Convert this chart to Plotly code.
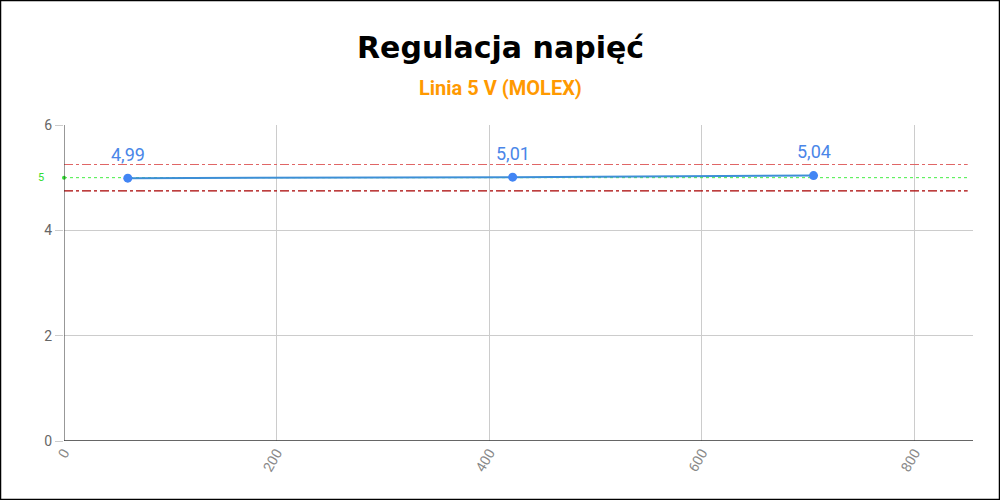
import plotly.graph_objects as go

loads = [60, 422, 705]
voltages = [4.99, 5.01, 5.04]
labels = ["4,99", "5,01", "5,04"]
nominal = 5.0
upper_limit = 5.25
lower_limit = 4.75
limit_x = [0, 850]
y_ticks = [0, 2, 4, 6]
x_ticks = [0, 200, 400, 600, 800]
title_text = "Regulacja napięć"
subtitle_text = "Linia 5 V (MOLEX)"

L, R, T, B = 64, 27, 125, 59
PW, PH = 1000 - L - R, 500 - T - B

def px_x(px):
    return (px - L) / PW

def px_y(py):
    return (500 - B - py) / PH

fig = go.Figure()

fig.add_trace(go.Scatter(x=limit_x, y=[upper_limit, upper_limit], mode="lines",
                         line=dict(color="#e06666", width=1.2, dash="dashdot"),
                         hoverinfo="skip", showlegend=False))
fig.add_trace(go.Scatter(x=limit_x, y=[lower_limit, lower_limit], mode="lines",
                         line=dict(color="#a80000", width=1.2, dash="dashdot"),
                         hoverinfo="skip", showlegend=False))
fig.add_trace(go.Scatter(x=limit_x, y=[nominal, nominal], mode="lines",
                         line=dict(color="#44ee44", width=1, dash="dot"),
                         hoverinfo="skip", showlegend=False))
fig.add_trace(go.Scatter(x=[0], y=[nominal], mode="markers",
                         marker=dict(color="#33dd33", size=4),
                         hoverinfo="skip", showlegend=False, cliponaxis=False))

fig.add_trace(go.Scatter(x=loads, y=voltages, mode="lines+markers",
                         line=dict(color="#3d8fd6", width=2),
                         marker=dict(color="#4285f4", size=9),
                         showlegend=False))

for xv, yv, lab in zip(loads, voltages, labels):
    fig.add_annotation(x=xv, y=yv, xref="x", yref="y", text=lab,
                       showarrow=False, yshift=24,
                       font=dict(family="Roboto", size=18, color="#4a86e8"))

fig.add_annotation(x=0, y=nominal, xref="paper", yref="y", text="5",
                   showarrow=False, xanchor="right", xshift=-18,
                   font=dict(family="Roboto", size=11, color="#33dd33"))

fig.add_annotation(x=px_x(500), y=px_y(47), xref="paper", yref="paper",
                   text="<b>%s</b>" % title_text,
                   showarrow=False, xanchor="center", yanchor="middle",
                   font=dict(family="DejaVu Sans", size=30, color="black"))
fig.add_annotation(x=px_x(500), y=px_y(88), xref="paper", yref="paper",
                   text="<b>%s</b>" % subtitle_text,
                   showarrow=False, xanchor="center", yanchor="middle",
                   font=dict(family="Roboto", size=20, color="#ff9900"))

fig.update_layout(
    width=1000, height=500,
    margin=dict(l=L, r=R, t=T, b=B),
    paper_bgcolor="white", plot_bgcolor="white",
    xaxis=dict(range=[0, 855], tickvals=x_ticks, tickangle=-60,
               showgrid=True, gridcolor="#cccccc", zeroline=False,
               showline=False, ticks="",
               tickfont=dict(family="Roboto", size=14, color="#888888")),
    yaxis=dict(range=[0, 6], tickvals=y_ticks,
               showgrid=True, gridcolor="#cccccc", zeroline=False,
               showline=False, ticks="outside", ticklen=8, tickcolor="#cccccc",
               tickfont=dict(family="Roboto", size=14, color="#666666")),
)

# axis lines
fig.add_shape(type="line", xref="x", yref="paper", x0=0, x1=0, y0=0, y1=1,
              line=dict(color="#333333", width=1))
fig.add_shape(type="line", xref="paper", yref="y", x0=0, x1=1, y0=0, y1=0,
              line=dict(color="#333333", width=1.5))

# figure border
fig.add_shape(type="rect", xref="paper", yref="paper",
              x0=px_x(0.5), x1=px_x(999.5),
              y0=px_y(499.5), y1=px_y(0.5),
              line=dict(color="black", width=1.5), layer="above")

fig.write_html("out.html", config={"displayModeBar": False},
               post_script="document.body.style.margin='0';")
